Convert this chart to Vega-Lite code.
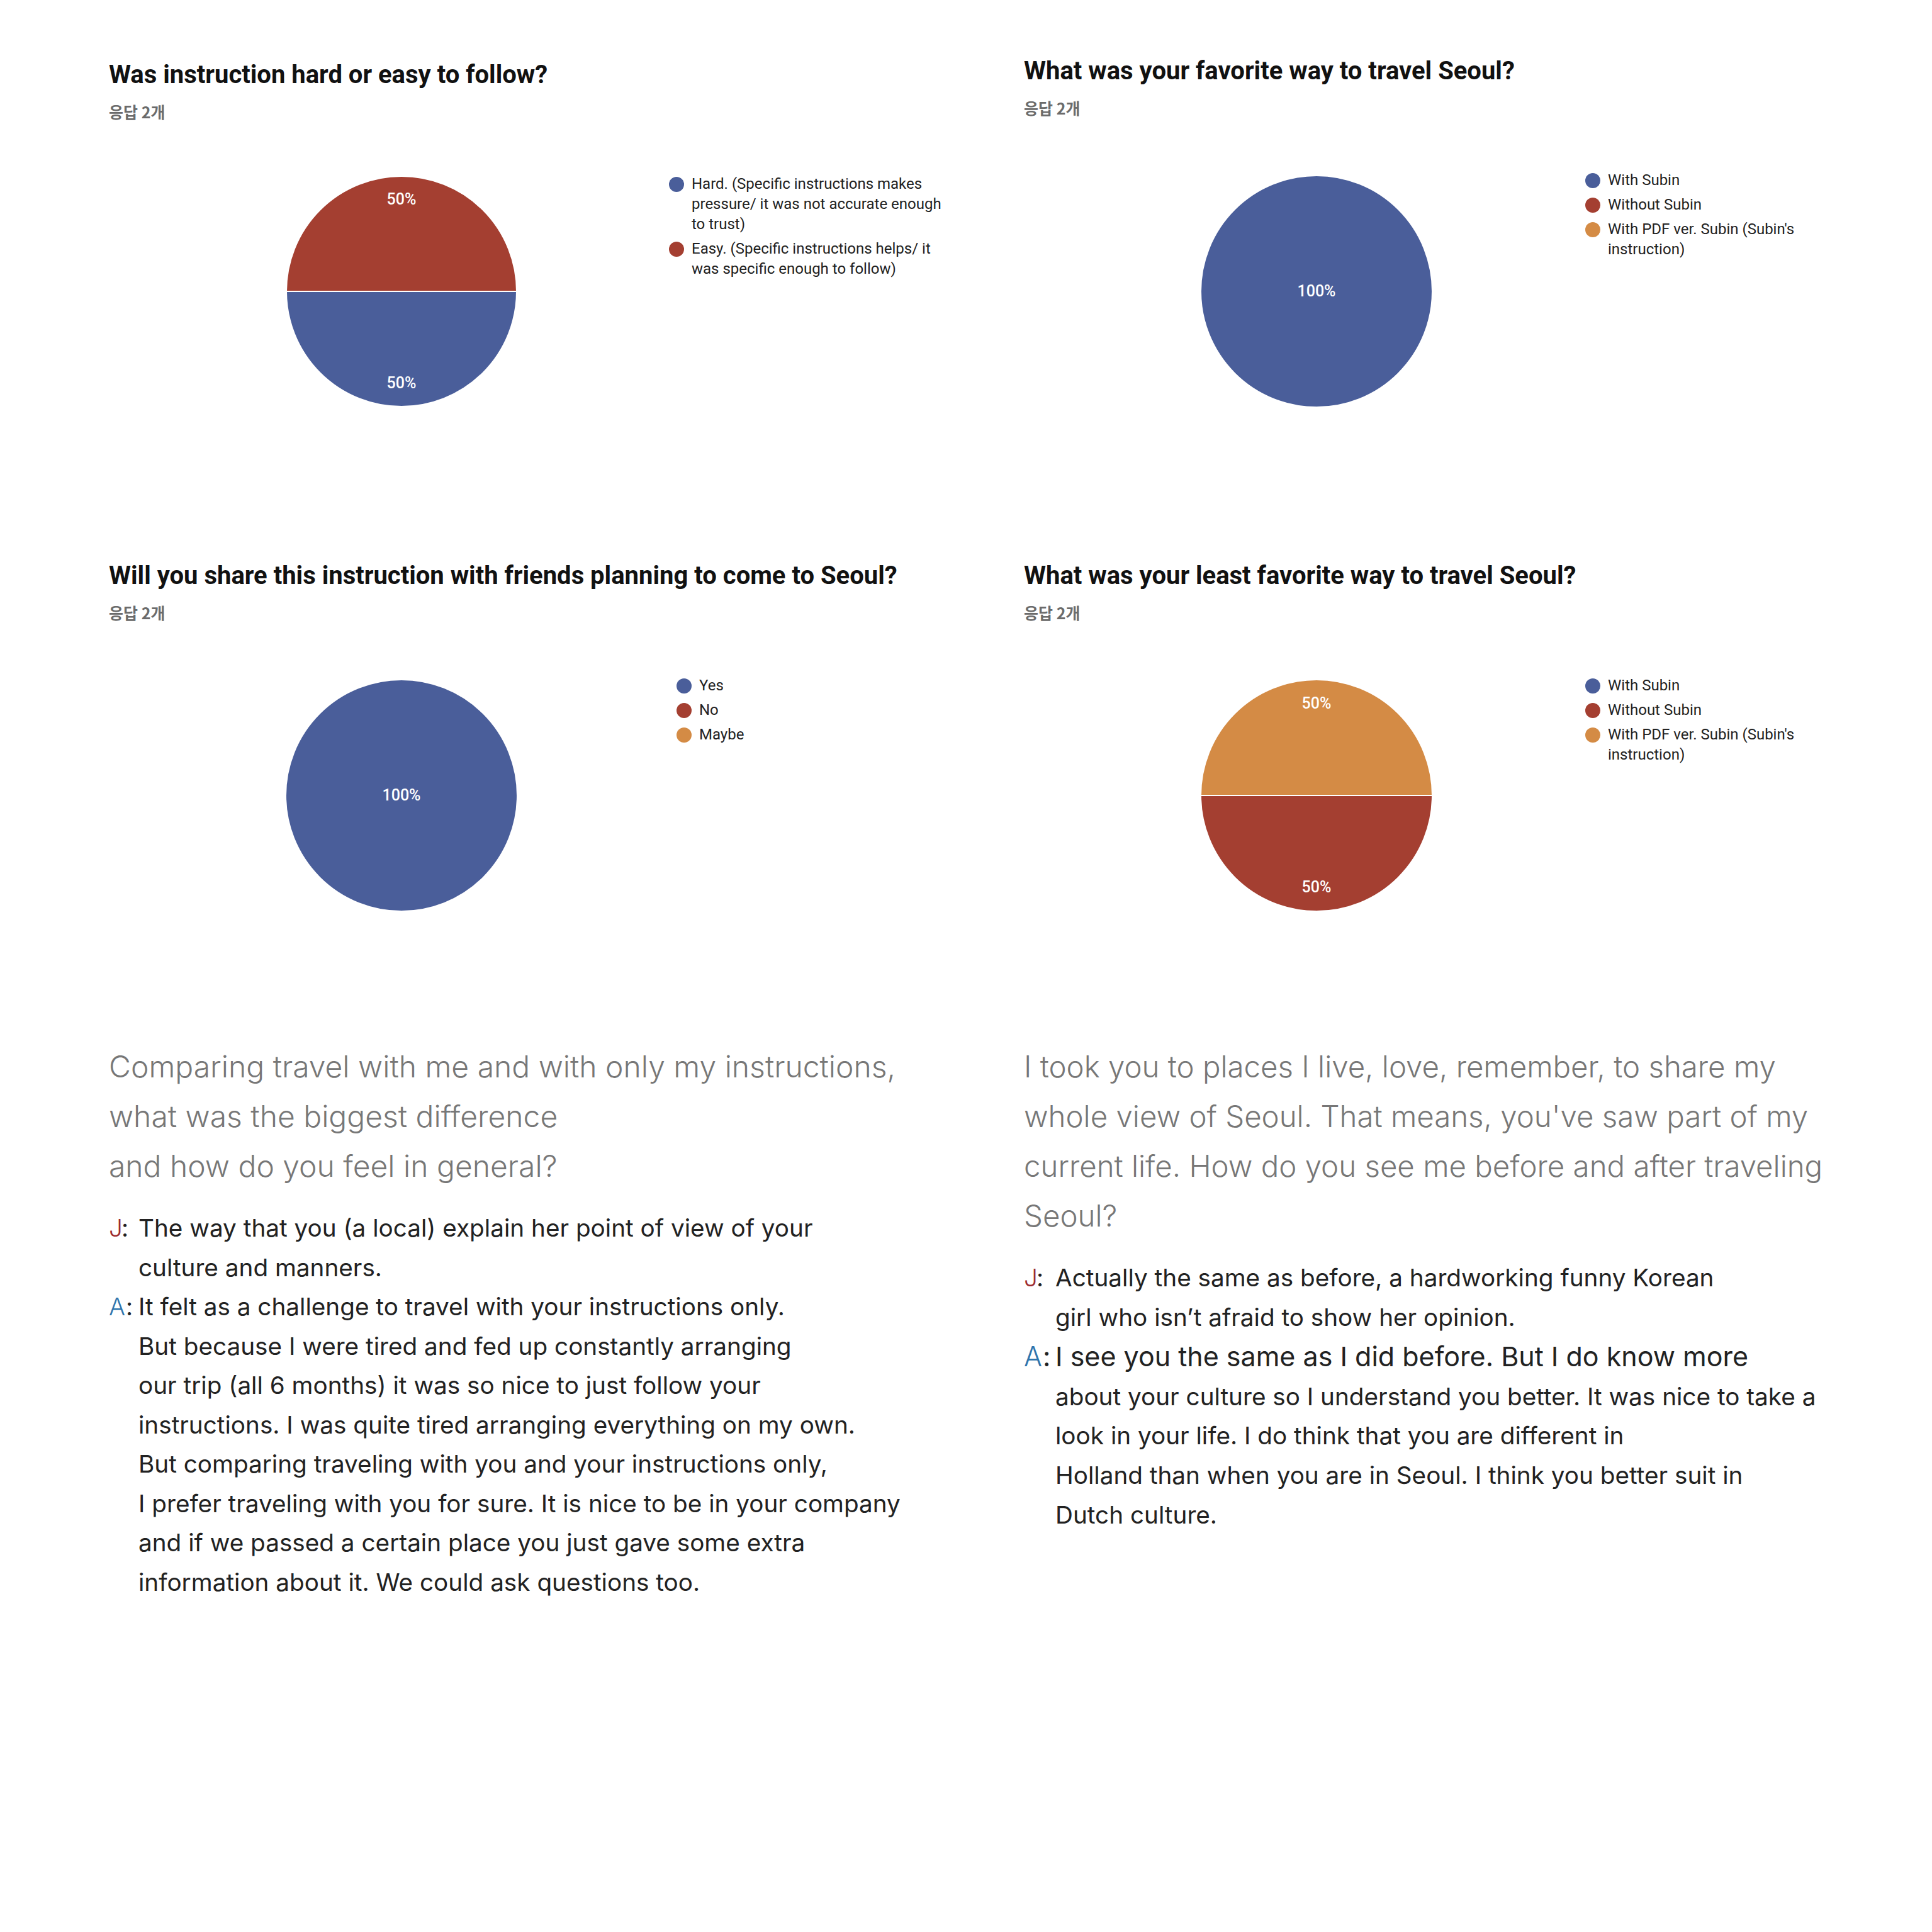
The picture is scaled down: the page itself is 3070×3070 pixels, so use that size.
{
  "$schema": "https://vega.github.io/schema/vega-lite/v6.json",
  "background": "#ffffff",
  "autosize": {"type": "pad"},
  "padding": {"left": 173, "top": 63, "right": 0, "bottom": 0},
  "datasets": {
    "q1": [
      {"opt": 1, "answer": "Hard. (Specific instructions makes pressure/ it was not accurate enough to trust)", "share": 0.5},
      {"opt": 2, "answer": "Easy. (Specific instructions helps/ it was specific enough to follow)", "share": 0.5}
    ],
    "q2": [
      {"opt": 1, "answer": "With Subin", "share": 1.0},
      {"opt": 2, "answer": "Without Subin", "share": 0},
      {"opt": 3, "answer": "With PDF ver. Subin (Subin's instruction)", "share": 0}
    ],
    "q3": [
      {"opt": 1, "answer": "Yes", "share": 1.0},
      {"opt": 2, "answer": "No", "share": 0},
      {"opt": 3, "answer": "Maybe", "share": 0}
    ],
    "q4": [
      {"opt": 1, "answer": "With Subin", "share": 0},
      {"opt": 2, "answer": "Without Subin", "share": 0.5},
      {"opt": 3, "answer": "With PDF ver. Subin (Subin's instruction)", "share": 0.5}
    ],
    "t1q": [
      {"line": 1, "text": "Comparing travel with me and with only my instructions,"},
      {"line": 2, "text": "what was the biggest difference"},
      {"line": 3, "text": "and how do you feel in general?"}
    ],
    "t1a": [
      {"line": 1, "who": "J", "text": "The way that you (a local) explain her point of view of your"},
      {"line": 2, "who": "", "text": "culture and manners."},
      {"line": 3, "who": "A", "text": "It felt as a challenge to travel with your instructions only."},
      {"line": 4, "who": "", "text": "But because I were tired and fed up constantly arranging"},
      {"line": 5, "who": "", "text": "our trip (all 6 months) it was so nice to just follow your"},
      {"line": 6, "who": "", "text": "instructions. I was quite tired arranging everything on my own."},
      {"line": 7, "who": "", "text": "But comparing traveling with you and your instructions only,"},
      {"line": 8, "who": "", "text": "I prefer traveling with you for sure. It is nice to be in your company"},
      {"line": 9, "who": "", "text": "and if we passed a certain place you just gave some extra"},
      {"line": 10, "who": "", "text": "information about it. We could ask questions too."}
    ],
    "t2q": [
      {"line": 1, "text": "I took you to places I live, love, remember, to share my"},
      {"line": 2, "text": "whole view of Seoul. That means, you've saw part of my"},
      {"line": 3, "text": "current life. How do you see me before and after traveling"},
      {"line": 4, "text": "Seoul?"}
    ],
    "t2a": [
      {"line": 1, "who": "J", "text": "Actually the same as before, a hardworking funny Korean"},
      {"line": 2, "who": "", "text": "girl who isn’t afraid to show her opinion."},
      {"line": 3, "who": "A", "text": "I see you the same as I did before. But I do know more"},
      {"line": 4, "who": "", "text": "about your culture so I understand you better. It was nice to take a"},
      {"line": 5, "who": "", "text": "look in your life. I do think that you are different in"},
      {"line": 6, "who": "", "text": "Holland than when you are in Seoul. I think you better suit in"},
      {"line": 7, "who": "", "text": "Dutch culture."}
    ]
  },
  "columns": 2,
  "bounds": "flush",
  "spacing": {"row": 1, "column": 524},
  "concat": [
    {
      "width": 930, "height": 800,
      "title": {"text": "Was instruction hard or easy to follow?", "subtitle": "응답 2개"},
      "data": {"name": "q1"},
      "transform": [{"filter": "datum.share > 0"}],
      "encoding": {
        "theta": {"field": "share", "type": "quantitative", "stack": true, "scale": {"domain": [0, 1], "range": [1.5708, 7.854]}},
        "order": {"field": "opt", "type": "quantitative"},
        "color": {
          "field": "answer", "type": "nominal",
          "scale": {"domain": ["Hard. (Specific instructions makes pressure/ it was not accurate enough to trust)", "Easy. (Specific instructions helps/ it was specific enough to follow)"], "range": ["#4a5e9a", "#a43f31"]},
          "legend": {"orient": "none", "legendX": 890, "legendY": 218,
            "labelExpr": "indexof(datum.label, 'Hard') == 0 ? ['Hard. (Specific instructions makes', 'pressure/ it was not accurate enough', 'to trust)'] : ['Easy. (Specific instructions helps/ it', 'was specific enough to follow)']"}
        }
      },
      "layer": [
        {"mark": {"type": "arc", "radius": 183, "stroke": "#ffffff", "strokeWidth": 2}},
        {"mark": {"type": "text", "radius": 146, "font": "Roboto", "fontSize": 25, "fontWeight": 500, "baseline": "middle"},
         "encoding": {"text": {"field": "share", "type": "quantitative", "format": ".0%"}, "color": {"value": "#ffffff"}}}
      ]
    },
    {
      "width": 930, "height": 800,
      "title": {"text": "What was your favorite way to travel Seoul?", "subtitle": "응답 2개", "offset": -124},
      "data": {"name": "q2"},
      "transform": [{"filter": "datum.share > 0"}],
      "encoding": {
        "theta": {"field": "share", "type": "quantitative", "stack": true, "scale": {"domain": [0, 1], "range": [1.5708, 7.854]}},
        "order": {"field": "opt", "type": "quantitative"},
        "color": {
          "field": "answer", "type": "nominal",
          "scale": {"domain": ["With Subin", "Without Subin", "With PDF ver. Subin (Subin's instruction)"], "range": ["#4a5e9a", "#a43f31", "#d48b45"]},
          "legend": {"orient": "none", "legendX": 892, "legendY": 212,
            "labelExpr": "indexof(datum.label, 'PDF') >= 0 ? [\"With PDF ver. Subin (Subin's\", 'instruction)'] : datum.label"}
        }
      },
      "layer": [
        {"mark": {"type": "arc", "radius": 184, "stroke": "#ffffff", "strokeWidth": 2}},
        {"mark": {"type": "text", "radius": 0, "font": "Roboto", "fontSize": 25, "fontWeight": 500, "baseline": "middle"},
         "encoding": {"text": {"field": "share", "type": "quantitative", "format": ".0%"}, "color": {"value": "#ffffff"}}}
      ]
    },
    {
      "width": 930, "height": 800,
      "title": {"text": "Will you share this instruction with friends planning to come to Seoul?", "subtitle": "응답 2개", "offset": -125},
      "data": {"name": "q3"},
      "transform": [{"filter": "datum.share > 0"}],
      "encoding": {
        "theta": {"field": "share", "type": "quantitative", "stack": true, "scale": {"domain": [0, 1], "range": [1.5708, 7.854]}},
        "order": {"field": "opt", "type": "quantitative"},
        "color": {
          "field": "answer", "type": "nominal",
          "scale": {"domain": ["Yes", "No", "Maybe"], "range": ["#4a5e9a", "#a43f31", "#d48b45"]},
          "legend": {"orient": "none", "legendX": 902, "legendY": 214}
        }
      },
      "layer": [
        {"mark": {"type": "arc", "radius": 184, "stroke": "#ffffff", "strokeWidth": 2}},
        {"mark": {"type": "text", "radius": 0, "font": "Roboto", "fontSize": 25, "fontWeight": 500, "baseline": "middle"},
         "encoding": {"text": {"field": "share", "type": "quantitative", "format": ".0%"}, "color": {"value": "#ffffff"}}}
      ]
    },
    {
      "width": 930, "height": 800,
      "title": {"text": "What was your least favorite way to travel Seoul?", "subtitle": "응답 2개", "offset": -125},
      "data": {"name": "q4"},
      "transform": [{"filter": "datum.share > 0"}],
      "encoding": {
        "theta": {"field": "share", "type": "quantitative", "stack": true, "scale": {"domain": [0, 1], "range": [1.5708, 7.854]}},
        "order": {"field": "opt", "type": "quantitative"},
        "color": {
          "field": "answer", "type": "nominal",
          "scale": {"domain": ["With Subin", "Without Subin", "With PDF ver. Subin (Subin's instruction)"], "range": ["#4a5e9a", "#a43f31", "#d48b45"]},
          "legend": {"orient": "none", "legendX": 892, "legendY": 214,
            "labelExpr": "indexof(datum.label, 'PDF') >= 0 ? [\"With PDF ver. Subin (Subin's\", 'instruction)'] : datum.label"}
        }
      },
      "layer": [
        {"mark": {"type": "arc", "radius": 184, "stroke": "#ffffff", "strokeWidth": 2}},
        {"mark": {"type": "text", "radius": 146, "font": "Roboto", "fontSize": 25, "fontWeight": 500, "baseline": "middle"},
         "encoding": {"text": {"field": "share", "type": "quantitative", "format": ".0%"}, "color": {"value": "#ffffff"}}}
      ]
    },
    {
      "width": 930, "height": 900,
      "resolve": {"scale": {"y": "independent", "x": "independent"}},
      "layer": [
        {
          "data": {"name": "t1q"},
          "mark": {"type": "text", "align": "left", "baseline": "middle", "font": "Inter", "fontSize": 48, "fontWeight": 300, "color": "#777777"},
          "encoding": {
            "x": {"datum": 0, "type": "quantitative", "scale": {"domain": [0, 1]}, "axis": null},
            "y": {"field": "line", "type": "quantitative", "scale": {"domain": [1, 3], "range": [33, 191], "nice": false, "zero": false}, "axis": null},
            "text": {"field": "text"}
          }
        },
        {
          "data": {"name": "t1a"},
          "transform": [{"filter": "datum.who != ''"}],
          "mark": {"type": "text", "align": "left", "baseline": "middle", "font": "Inter", "fontSize": 38.7, "fontWeight": 300},
          "encoding": {
            "x": {"datum": 0, "type": "quantitative", "scale": {"domain": [0, 1]}, "axis": null},
            "y": {"field": "line", "type": "quantitative", "scale": {"domain": [1, 10], "range": [288, 851], "nice": false, "zero": false}, "axis": null},
            "text": {"field": "who"},
            "color": {"condition": {"test": "datum.who == 'J'", "value": "#9c2b2e"}, "value": "#2f75ad"}
          }
        },
        {
          "data": {"name": "t1a"},
          "transform": [{"filter": "datum.who == 'J'"}],
          "mark": {"type": "text", "align": "left", "baseline": "middle", "font": "Inter", "fontSize": 38.7, "fontWeight": 400, "color": "#222222", "dx": 20, "text": ":"},
          "encoding": {
            "x": {"datum": 0, "type": "quantitative", "scale": {"domain": [0, 1]}, "axis": null},
            "y": {"field": "line", "type": "quantitative", "scale": {"domain": [1, 10], "range": [288, 851], "nice": false, "zero": false}, "axis": null}
          }
        },
        {
          "data": {"name": "t1a"},
          "transform": [{"filter": "datum.who == 'A'"}],
          "mark": {"type": "text", "align": "left", "baseline": "middle", "font": "Inter", "fontSize": 38.7, "fontWeight": 400, "color": "#222222", "dx": 27, "text": ":"},
          "encoding": {
            "x": {"datum": 0, "type": "quantitative", "scale": {"domain": [0, 1]}, "axis": null},
            "y": {"field": "line", "type": "quantitative", "scale": {"domain": [1, 10], "range": [288, 851], "nice": false, "zero": false}, "axis": null}
          }
        },
        {
          "data": {"name": "t1a"},
          "mark": {"type": "text", "align": "left", "baseline": "middle", "font": "Inter", "fontSize": 38.7, "fontWeight": 400, "color": "#222222", "dx": 47},
          "encoding": {
            "x": {"datum": 0, "type": "quantitative", "scale": {"domain": [0, 1]}, "axis": null},
            "y": {"field": "line", "type": "quantitative", "scale": {"domain": [1, 10], "range": [288, 851], "nice": false, "zero": false}, "axis": null},
            "text": {"field": "text"}
          }
        }
      ]
    },
    {
      "width": 930, "height": 900,
      "resolve": {"scale": {"y": "independent", "x": "independent"}},
      "layer": [
        {
          "data": {"name": "t2q"},
          "mark": {"type": "text", "align": "left", "baseline": "middle", "font": "Inter", "fontSize": 47.4, "fontWeight": 300, "color": "#777777"},
          "encoding": {
            "x": {"datum": 0, "type": "quantitative", "scale": {"domain": [0, 1]}, "axis": null},
            "y": {"field": "line", "type": "quantitative", "scale": {"domain": [1, 4], "range": [33, 270], "nice": false, "zero": false}, "axis": null},
            "text": {"field": "text"}
          }
        },
        {
          "data": {"name": "t2a"},
          "transform": [{"filter": "datum.who != ''"}],
          "mark": {"type": "text", "align": "left", "baseline": "middle", "font": "Inter", "fontWeight": 300},
          "encoding": {
            "x": {"datum": 0, "type": "quantitative", "scale": {"domain": [0, 1]}, "axis": null},
            "y": {"field": "line", "type": "quantitative", "scale": {"domain": [1, 7], "range": [367, 744], "nice": false, "zero": false}, "axis": null},
            "text": {"field": "who"},
            "size": {"condition": {"test": "datum.who == 'A'", "value": 43}, "value": 38.7},
            "color": {"condition": {"test": "datum.who == 'J'", "value": "#9c2b2e"}, "value": "#2f75ad"}
          }
        },
        {
          "data": {"name": "t2a"},
          "transform": [{"filter": "datum.who == 'J'"}],
          "mark": {"type": "text", "align": "left", "baseline": "middle", "font": "Inter", "fontSize": 38.7, "fontWeight": 400, "color": "#222222", "dx": 20, "text": ":"},
          "encoding": {
            "x": {"datum": 0, "type": "quantitative", "scale": {"domain": [0, 1]}, "axis": null},
            "y": {"field": "line", "type": "quantitative", "scale": {"domain": [1, 7], "range": [367, 744], "nice": false, "zero": false}, "axis": null}
          }
        },
        {
          "data": {"name": "t2a"},
          "transform": [{"filter": "datum.who == 'A'"}],
          "mark": {"type": "text", "align": "left", "baseline": "middle", "font": "Inter", "fontSize": 43, "fontWeight": 400, "color": "#222222", "dx": 30, "text": ":"},
          "encoding": {
            "x": {"datum": 0, "type": "quantitative", "scale": {"domain": [0, 1]}, "axis": null},
            "y": {"field": "line", "type": "quantitative", "scale": {"domain": [1, 7], "range": [367, 744], "nice": false, "zero": false}, "axis": null}
          }
        },
        {
          "data": {"name": "t2a"},
          "mark": {"type": "text", "align": "left", "baseline": "middle", "font": "Inter", "fontWeight": 400, "color": "#222222", "dx": 50},
          "encoding": {
            "x": {"datum": 0, "type": "quantitative", "scale": {"domain": [0, 1]}, "axis": null},
            "y": {"field": "line", "type": "quantitative", "scale": {"domain": [1, 7], "range": [367, 744], "nice": false, "zero": false}, "axis": null},
            "text": {"field": "text"},
            "size": {"condition": {"test": "datum.line == 3", "value": 43}, "value": 38.7}
          }
        }
      ]
    }
  ],
  "resolve": {
    "scale": {"color": "independent", "theta": "independent", "x": "independent", "y": "independent"},
    "legend": {"color": "independent"}
  },
  "config": {
    "view": {"stroke": null},
    "title": {
      "anchor": "start", "frame": "group", "orient": "top", "offset": -130,
      "font": "Roboto", "fontSize": 40, "fontWeight": "bold", "color": "#111111",
      "subtitleFont": "Noto Sans CJK KR", "subtitleFontSize": 25, "subtitleFontWeight": "bold", "subtitleColor": "#6b6b6b",
      "subtitlePadding": 28
    },
    "legend": {
      "title": null, "symbolType": "circle", "symbolSize": 576, "symbolStrokeWidth": 0, "symbolOpacity": 1,
      "labelFont": "Roboto", "labelFontSize": 24, "labelColor": "#222222", "labelLimit": 2000, "labelOffset": 12, "padding": 0,
      "rowPadding": 15
    },
    "style": {"guide-label": {"lineHeight": 32}}
  }
}
